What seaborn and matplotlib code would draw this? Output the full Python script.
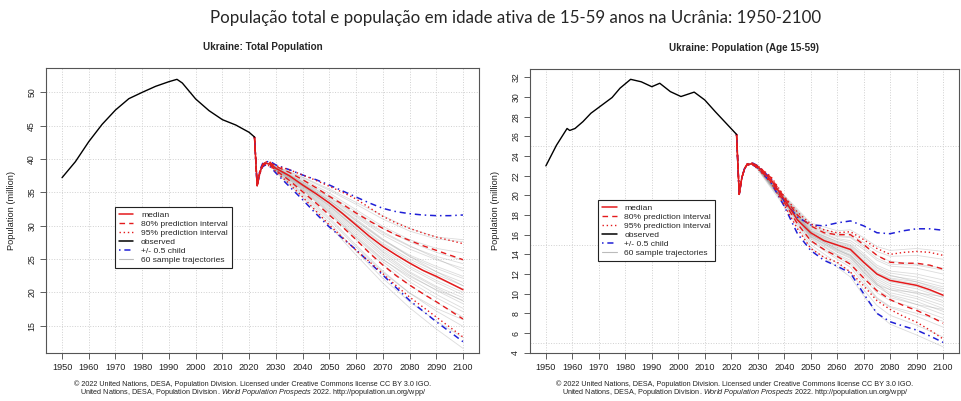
import matplotlib
matplotlib.use("Agg")
import matplotlib.pyplot as plt
from matplotlib.lines import Line2D
from matplotlib.ticker import FixedLocator
import seaborn as sns
import pandas as pd

# ---------------- data ----------------
# Total population (million)
tot_obs_years = [1950, 1955, 1960, 1965, 1970, 1975, 1980, 1985, 1990, 1993, 1995,
                 2000, 2005, 2010, 2015, 2020, 2022]
tot_obs_vals = [37.2, 39.6, 42.6, 45.2, 47.35, 49.05, 50.0, 50.9, 51.6, 51.95, 51.4,
                49.0, 47.25, 45.9, 45.1, 44.0, 43.3]

proj_years = [2022, 2023, 2024, 2025, 2026, 2028, 2030, 2035, 2040, 2045, 2050,
              2055, 2060, 2065, 2070, 2075, 2080, 2085, 2090, 2095, 2100]

tot_median = [43.3, 36.0, 38.0, 39.0, 39.4, 39.2, 38.6, 37.5, 36.1, 34.8, 33.4,
              31.8, 30.1, 28.4, 26.9, 25.6, 24.4, 23.3, 22.4, 21.4, 20.4]
tot_hi80 = [43.3, 36.0, 38.1, 39.1, 39.5, 39.4, 38.9, 38.0, 36.9, 35.7, 34.4,
            33.2, 31.9, 30.7, 29.6, 28.6, 27.8, 27.0, 26.3, 25.6, 24.9]
tot_lo80 = [43.3, 36.0, 37.9, 38.9, 39.3, 39.0, 38.3, 36.8, 35.1, 33.4, 31.6,
            29.8, 27.9, 25.9, 24.1, 22.5, 21.1, 19.8, 18.6, 17.3, 16.0]
tot_hi95 = [43.3, 36.0, 38.2, 39.2, 39.6, 39.5, 39.0, 38.4, 37.6, 36.8, 35.9,
            35.0, 34.0, 32.7, 31.4, 30.4, 29.6, 28.9, 28.3, 27.8, 27.3]
tot_lo95 = [43.3, 36.0, 37.8, 38.8, 39.2, 38.9, 38.1, 36.3, 34.3, 32.2, 30.1,
            28.2, 26.3, 24.6, 22.8, 21.0, 19.3, 17.8, 16.3, 14.8, 13.3]
tot_child_hi = [43.3, 36.0, 38.3, 39.3, 39.6, 39.6, 39.1, 38.4, 37.6, 36.9, 36.1,
                35.2, 34.3, 33.4, 32.6, 32.1, 31.8, 31.6, 31.5, 31.5, 31.6]
tot_child_lo = [43.3, 36.0, 37.8, 38.8, 39.1, 38.8, 37.9, 35.9, 33.9, 31.8, 29.8,
                28.1, 26.4, 24.5, 22.6, 20.7, 18.8, 17.2, 15.6, 14.1, 12.6]

tot_traj_years = [2030, 2040, 2050, 2060, 2070, 2080, 2090, 2100]
tot_traj = [
    [38.9, 37.2, 35.3, 33.2, 31.0, 29.2, 28.0, 27.6],
    [38.8, 36.8, 34.6, 32.1, 29.6, 27.6, 26.0, 24.8],
    [38.7, 36.5, 34.0, 31.3, 28.6, 26.5, 24.9, 23.6],
    [38.7, 36.4, 33.8, 30.8, 27.9, 25.6, 23.9, 22.4],
    [38.6, 36.2, 33.5, 30.4, 27.4, 25.0, 23.1, 21.5],
    [38.6, 36.1, 33.3, 30.0, 26.8, 24.3, 22.2, 20.5],
    [38.5, 35.9, 32.9, 29.5, 26.2, 23.6, 21.5, 19.6],
    [38.5, 35.8, 32.7, 29.2, 25.7, 22.9, 20.7, 18.7],
    [38.4, 35.6, 32.3, 28.6, 25.0, 22.1, 19.7, 17.6],
    [38.3, 35.3, 31.8, 27.9, 24.2, 21.1, 18.5, 16.3],
    [38.2, 35.0, 31.2, 27.1, 23.2, 19.9, 17.2, 14.9],
    [38.1, 34.6, 30.5, 26.2, 22.1, 18.6, 15.7, 13.2],
    [38.8, 37.0, 34.9, 32.4, 29.9, 27.9, 26.6, 25.9],
    [38.7, 36.6, 34.2, 31.5, 28.9, 26.9, 25.4, 24.3],
    [38.6, 36.3, 33.7, 30.7, 27.8, 25.4, 23.6, 22.1],
    [38.6, 36.2, 33.4, 30.3, 27.2, 24.7, 22.7, 21.0],
    [38.5, 36.0, 33.1, 29.7, 26.5, 23.9, 21.8, 20.0],
    [38.4, 35.7, 32.5, 28.9, 25.4, 22.6, 20.3, 18.3],
    [38.3, 35.4, 32.0, 28.2, 24.6, 21.6, 19.2, 17.1],
    [38.7, 36.6, 34.3, 31.7, 29.1, 27.0, 25.1, 23.2],
    [38.6, 36.3, 33.8, 31.0, 28.0, 25.4, 23.1, 21.0],
    [38.5, 35.9, 33.0, 29.6, 26.0, 23.1, 20.9, 19.2],
    [38.4, 35.5, 32.1, 28.3, 24.9, 22.4, 20.4, 18.8],
    [38.2, 34.8, 30.9, 26.8, 23.0, 19.9, 17.6, 15.9],
    [38.0, 34.3, 30.0, 25.6, 21.4, 17.7, 14.5, 11.6],
    [38.9, 37.3, 35.5, 33.5, 31.5, 29.6, 28.3, 27.9],
]

# Working-age population 15-59 (million)
wa_obs_years = [1950, 1954, 1958, 1959, 1961, 1964, 1967, 1972, 1975, 1978, 1982,
                1986, 1990, 1993, 1997, 2001, 2006, 2010, 2014, 2018, 2022]
wa_obs_vals = [23.0, 25.1, 26.8, 26.6, 26.8, 27.5, 28.35, 29.35, 29.95, 30.9, 31.8,
               31.55, 31.05, 31.4, 30.55, 30.05, 30.5, 29.7, 28.5, 27.35, 26.2]

wa_median = [26.2, 20.1, 21.8, 22.7, 23.15, 23.2, 22.9, 21.6, 19.6, 17.5, 16.2,
             15.4, 14.95, 14.5, 13.2, 12.0, 11.35, 11.1, 10.85, 10.4, 9.85]
wa_hi80 = [26.2, 20.1, 21.8, 22.7, 23.2, 23.25, 23.0, 21.8, 19.8, 18.0, 16.9,
           16.2, 16.0, 16.0, 15.0, 13.9, 13.2, 13.1, 13.1, 12.9, 12.5]
wa_lo80 = [26.2, 20.1, 21.8, 22.7, 23.1, 23.15, 22.8, 21.4, 19.3, 17.1, 15.4,
           14.5, 13.8, 13.0, 11.6, 10.3, 9.4, 8.8, 8.3, 7.7, 7.0]
wa_hi95 = [26.2, 20.1, 21.8, 22.7, 23.2, 23.3, 23.0, 21.9, 19.9, 18.3, 17.1,
           16.5, 16.2, 16.3, 15.5, 14.6, 14.0, 14.2, 14.3, 14.2, 13.9]
wa_lo95 = [26.2, 20.1, 21.8, 22.7, 23.1, 23.1, 22.7, 21.3, 19.0, 16.6, 14.6,
           13.7, 13.2, 12.2, 10.8, 9.3, 8.4, 7.7, 7.1, 6.3, 5.4]
wa_child_hi = [26.2, 20.1, 21.8, 22.7, 23.2, 23.3, 23.0, 21.7, 19.4, 17.8, 17.0,
               16.9, 17.2, 17.4, 16.9, 16.2, 16.1, 16.4, 16.6, 16.6, 16.45]
wa_child_lo = [26.2, 20.1, 21.8, 22.7, 23.1, 23.1, 22.8, 21.3, 18.9, 16.1, 14.4,
               13.4, 12.8, 12.1, 10.0, 8.0, 7.15, 6.7, 6.3, 5.7, 5.05]

wa_traj_years = [2030, 2040, 2050, 2060, 2065, 2070, 2075, 2080, 2090, 2100]
wa_traj = [
    [23.0, 19.9, 17.0, 16.1, 16.1, 15.2, 14.3, 13.8, 13.9, 13.5],
    [23.0, 19.8, 16.8, 15.8, 15.7, 14.7, 13.6, 13.0, 12.9, 12.4],
    [22.9, 19.7, 16.6, 15.5, 15.2, 14.1, 12.9, 12.3, 12.0, 11.4],
    [22.9, 19.7, 16.4, 15.2, 14.8, 13.6, 12.4, 11.8, 11.4, 10.7],
    [22.9, 19.6, 16.3, 15.0, 14.6, 13.3, 12.1, 11.5, 11.0, 10.2],
    [22.9, 19.6, 16.2, 14.9, 14.4, 13.1, 11.9, 11.2, 10.7, 9.8],
    [22.9, 19.5, 16.1, 14.7, 14.2, 12.8, 11.5, 10.8, 10.2, 9.3],
    [22.8, 19.5, 16.0, 14.5, 13.9, 12.5, 11.1, 10.4, 9.7, 8.8],
    [22.8, 19.4, 15.8, 14.2, 13.6, 12.1, 10.7, 9.9, 9.2, 8.2],
    [22.8, 19.3, 15.6, 13.9, 13.2, 11.6, 10.1, 9.3, 8.5, 7.5],
    [22.7, 19.2, 15.3, 13.5, 12.7, 11.0, 9.5, 8.6, 7.7, 6.6],
    [22.7, 19.1, 15.0, 13.1, 12.2, 10.4, 8.8, 7.8, 6.8, 5.6],
    [23.0, 19.8, 16.7, 15.6, 15.4, 14.5, 13.4, 12.8, 12.6, 12.0],
    [22.9, 19.7, 16.5, 15.3, 15.0, 13.9, 12.7, 12.1, 11.7, 11.0],
    [22.9, 19.6, 16.3, 15.1, 14.7, 13.4, 12.2, 11.6, 11.2, 10.5],
    [22.9, 19.6, 16.2, 14.8, 14.3, 12.9, 11.7, 11.0, 10.5, 9.6],
    [22.8, 19.5, 16.0, 14.6, 14.0, 12.6, 11.3, 10.6, 10.0, 9.1],
    [22.8, 19.4, 15.9, 14.3, 13.7, 12.3, 10.9, 10.1, 9.5, 8.5],
    [22.8, 19.3, 15.7, 14.0, 13.4, 11.9, 10.4, 9.6, 8.9, 7.9],
    [23.0, 19.8, 16.9, 15.9, 15.8, 14.9, 13.9, 13.3, 13.0, 12.6],
    [22.9, 19.6, 16.4, 15.3, 14.9, 13.8, 12.6, 11.9, 11.2, 10.3],
    [22.8, 19.5, 16.0, 14.5, 13.8, 12.2, 10.9, 10.4, 10.1, 9.7],
    [22.8, 19.4, 15.8, 14.4, 13.9, 12.6, 11.0, 9.8, 8.9, 8.4],
    [22.7, 19.2, 15.4, 13.7, 13.0, 11.3, 9.6, 8.7, 8.0, 7.2],
    [22.6, 18.9, 14.7, 12.7, 11.7, 9.8, 8.0, 6.9, 5.8, 4.6],
    [23.0, 20.0, 17.2, 16.4, 16.5, 15.7, 14.8, 14.4, 14.6, 14.3],
]

year_ticks = list(range(1950, 2101, 10))
tot_yticks = [15, 20, 25, 30, 35, 40, 45, 50]
wa_yticks = list(range(4, 33, 2))
wa_ygrid = [5, 10, 15, 20, 25, 30]

legend_labels = ["median", "80% prediction interval", "95% prediction interval",
                 "observed", "+/- 0.5 child", "60 sample trajectories"]

title_main = "População total e população em idade ativa de 15-59 anos na Ucrânia: 1950-2100"
title_left = "Ukraine: Total Population"
title_right = "Ukraine: Population (Age 15-59)"
ylabel = "Population (million)"
footer1 = "© 2022 United Nations, DESA, Population Division. Licensed under Creative Commons license CC BY 3.0 IGO."
footer2 = (r"United Nations, DESA, Population Division. $\it{World\ Population\ Prospects\ 2022}$."
           r" http://population.un.org/wpp/")

# ---------------- style ----------------
sns.set_style("white")
plt.rcParams["font.family"] = ["Liberation Sans", "DejaVu Sans"]
plt.rcParams["mathtext.fontset"] = "custom"
plt.rcParams["mathtext.rm"] = "Liberation Sans"
plt.rcParams["mathtext.it"] = "Liberation Sans:italic"

RED = "#e41a1c"
BLUE = "#1f1fd6"
DASH80 = (0, (4, 3))
DOT95 = (0, (1, 2))
DOTDASH = (0, (1, 2.5, 4, 2.5))

fig = plt.figure(figsize=(9.62, 4.01), dpi=100)
axL = fig.add_axes([46 / 962, 1 - 353 / 401, 433 / 962, 285 / 401])
axR = fig.add_axes([530 / 962, 1 - 353 / 401, 429 / 962, 284 / 401])


def draw_panel(ax, obs_y, obs_v, med, lo80, hi80, lo95, hi95, clo, chi,
               traj_years, traj, title, yticks, ygrid, ylim, leg_anchor):
    # sample trajectories (start shares the first projected years)
    rows = []
    n0 = 6
    for i, tr in enumerate(traj):
        ys = proj_years[:n0] + traj_years
        vs = med[:n0] + tr
        for y, v in zip(ys, vs):
            rows.append({"traj": i, "year": y, "value": v})
    df = pd.DataFrame(rows)
    sns.lineplot(data=df, x="year", y="value", units="traj", estimator=None,
                 color="#9a9a9a", alpha=0.35, lw=0.6, ax=ax, legend=False)

    def line(vals, color, ls, lw=1.0):
        sns.lineplot(x=proj_years, y=vals, color=color, linestyle=ls, lw=lw,
                     ax=ax, errorbar=None, sort=False, legend=False)

    line(chi, BLUE, DOTDASH, 1.1)
    line(clo, BLUE, DOTDASH, 1.1)
    line(hi95, RED, DOT95, 1.0)
    line(lo95, RED, DOT95, 1.0)
    line(hi80, RED, DASH80, 1.0)
    line(lo80, RED, DASH80, 1.0)
    line(med, RED, "-", 1.1)
    sns.lineplot(x=obs_y, y=obs_v, color="black", lw=1.0, ax=ax,
                 errorbar=None, sort=False, legend=False)

    ax.set_xlim(1944, 2106)
    ax.set_ylim(*ylim)
    ax.xaxis.set_major_locator(FixedLocator(year_ticks))
    ax.yaxis.set_major_locator(FixedLocator(yticks))
    ax.set_xticklabels([str(t) for t in year_ticks])
    ax.set_yticklabels([str(t) for t in yticks])
    ax.tick_params(axis="x", which="major", length=4, width=0.6, color="#444444",
                   labelsize=6.6, pad=3, bottom=True, labelcolor="#222222")
    ax.tick_params(axis="y", which="major", length=4, width=0.6, color="#444444",
                   labelsize=6.3, pad=3, labelrotation=90, left=True,
                   labelcolor="#222222")
    for lab in ax.get_yticklabels():
        lab.set_va("center")
    ax.set_xlabel("")
    ax.set_ylabel(ylabel, fontsize=6.7, labelpad=8, color="#222222")

    # grid
    if ygrid is not None:
        ax.yaxis.set_minor_locator(FixedLocator(ygrid))
        ax.tick_params(axis="y", which="minor", length=0)
        ax.grid(axis="y", which="minor", color="#d0d0d0", linestyle=":", lw=0.7)
    else:
        ax.grid(axis="y", which="major", color="#d0d0d0", linestyle=":", lw=0.7)
    ax.grid(axis="x", which="major", color="#d0d0d0", linestyle=":", lw=0.7)
    ax.set_axisbelow(True)

    for sp in ax.spines.values():
        sp.set_visible(True)
        sp.set_color("#555555")
        sp.set_linewidth(0.8)

    ax.set_title(title, fontsize=7.1, fontweight="bold", pad=13)

    handles = [
        Line2D([], [], color=RED, lw=1.1, ls="-"),
        Line2D([], [], color=RED, lw=1.0, ls=DASH80),
        Line2D([], [], color=RED, lw=1.0, ls=DOT95),
        Line2D([], [], color="black", lw=1.1, ls="-"),
        Line2D([], [], color=BLUE, lw=1.1, ls=DOTDASH),
        Line2D([], [], color="#bbbbbb", lw=0.8, ls="-"),
    ]
    leg = ax.legend(handles, legend_labels, loc="upper left", bbox_to_anchor=leg_anchor,
                    fontsize=6.1, frameon=True, fancybox=False, framealpha=1,
                    edgecolor="#222222", handlelength=1.7, handletextpad=0.9,
                    labelspacing=0.12, borderpad=0.5, borderaxespad=0)
    leg.get_frame().set_linewidth(0.8)


draw_panel(axL, tot_obs_years, tot_obs_vals, tot_median, tot_lo80, tot_hi80,
           tot_lo95, tot_hi95, tot_child_lo, tot_child_hi, tot_traj_years, tot_traj,
           title_left, tot_yticks, None, (10.9, 53.65), (0.159, 0.513))
draw_panel(axR, wa_obs_years, wa_obs_vals, wa_median, wa_lo80, wa_hi80,
           wa_lo95, wa_hi95, wa_child_lo, wa_child_hi, wa_traj_years, wa_traj,
           title_right, wa_yticks, wa_ygrid, (3.97, 32.85), (0.159, 0.539))

fig.text(516 / 962, 1 - 18 / 401, title_main, ha="center", va="center",
         fontsize=12.2, family=["Lato", "DejaVu Sans"])

for xc in (253 / 962, 735 / 962):
    fig.text(xc, 1 - 384 / 401, footer1, ha="center", va="center", fontsize=5.2,
             color="#222222")
    fig.text(xc, 1 - 393 / 401, footer2, ha="center", va="center", fontsize=5.2,
             color="#222222")

fig.savefig("out.png", dpi=100, facecolor="white")
